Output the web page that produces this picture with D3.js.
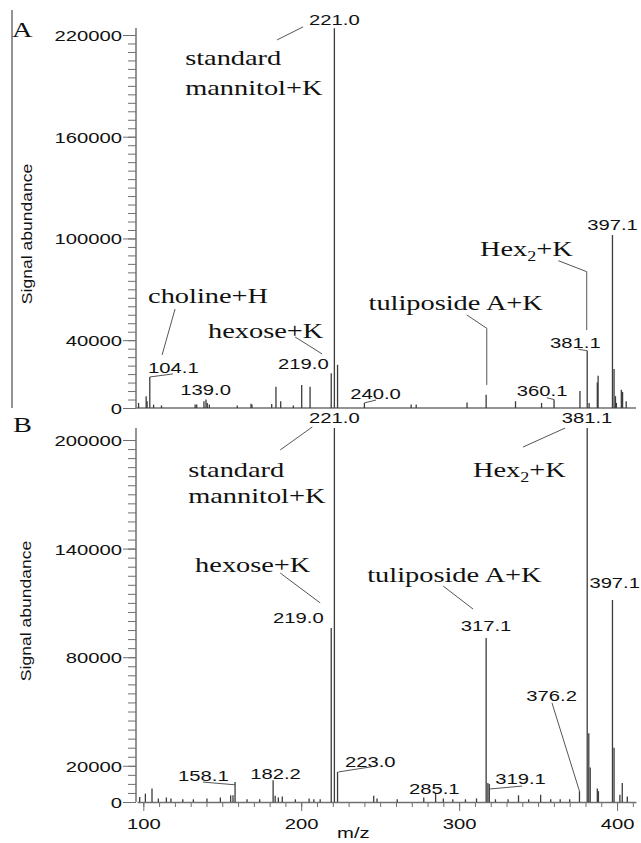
<!DOCTYPE html>
<html>
<head>
<meta charset="utf-8">
<script src="https://cdn.jsdelivr.net/npm/d3@7"></script>
<style>
  body { margin: 0; background: #fff; }
</style>
</head>
<body>
<div id="chart"></div>
<script>
// m/z range and tick labels
var mzDomain = [96, 412];
var xTicksB = [100, 200, 300, 400];
var yTicksA = [0, 40000, 100000, 160000, 220000];
var yTicksB = [0, 20000, 80000, 140000, 200000];

// panel A peaks (m/z, signal)
var massA = [97.0, 101.8, 102.4, 104.1, 106.5, 111.5, 132.8, 133.8, 138.4, 139.7, 140.5, 141.8,
  159.5, 168.2, 168.8, 181.3, 184.0, 187.0, 195.0, 200.3, 205.6, 219.0, 221.0, 223.0, 240.0,
  269.6, 272.8, 305.0, 317.1, 335.7, 352.2, 360.1, 376.5, 381.1, 382.3, 387.5, 388.0,
  397.1, 398.1, 399.0, 399.6, 402.7, 403.5, 405.8];
var signalA = [3000, 7000, 4000, 18300, 2000, 1500, 2000, 2000, 4000, 5000, 3000, 2000,
  1500, 2500, 2000, 2400, 12500, 4000, 1500, 13500, 12500, 20500, 224000, 25500, 3000,
  2000, 2000, 3300, 7800, 4000, 3000, 5000, 10000, 33800, 3000, 15000, 19000,
  102000, 23000, 7000, 3000, 10800, 9500, 4000];

// panel B peaks (m/z, signal)
var massB = [97.7, 101.3, 105.5, 109.5, 114.6, 117.5, 125.0, 131.7, 140.3, 148.8, 155.3, 156.8,
  158.1, 165.7, 173.7, 182.2, 183.5, 185.5, 188.0, 196.3, 205.0, 208.0, 212.0, 219.0, 221.0,
  223.0, 245.9, 248.0, 260.8, 277.6, 285.1, 290.0, 296.0, 304.0, 311.0, 317.1, 318.2, 319.1,
  323.0, 331.0, 337.6, 344.0, 351.6, 358.0, 364.0, 370.0, 376.2, 381.1, 382.1, 383.0,
  387.5, 388.2, 397.1, 398.1, 401.8, 403.3, 406.5];
var signalB = [2800, 4600, 7400, 2000, 2500, 2000, 1500, 1500, 2000, 2500, 3700, 3700,
  11000, 1500, 1500, 12000, 3500, 2500, 3000, 1500, 2000, 1500, 1500, 96100, 206600,
  16600, 3500, 2000, 1500, 2500, 5000, 2000, 1500, 1500, 2000, 90600, 10500, 10000,
  1500, 1500, 3700, 1500, 4000, 1500, 1500, 1500, 6000, 206600, 38000, 19000,
  7500, 6000, 111600, 30000, 4000, 10500, 3000];

// annotations: number labels, names, leader lines (in m/z and signal units)
var numLabelsA = [
  { t: '221.0', mz: 221, v: 229000, a: 'middle' },
  { t: '104.1', mz: 103, v: 23600, a: 'start' },
  { t: '139.0', mz: 123.4, v: 10600, a: 'start' },
  { t: '219.0', mz: 185.3, v: 26000, a: 'start' },
  { t: '240.0', mz: 231, v: 8300, a: 'start' },
  { t: '360.1', mz: 336.5, v: 10000, a: 'start' },
  { t: '381.1', mz: 357.6, v: 38800, a: 'start' },
  { t: '397.1', mz: 397.1, v: 108000, a: 'middle' }
];
var nameLabelsA = [
  { t: 'standard', mz: 126.5, v: 202400 },
  { t: 'mannitol+K', mz: 126.5, v: 184700 },
  { t: 'choline+H', mz: 103, v: 61900 },
  { t: 'hexose+K', mz: 141, v: 41300 },
  { t: 'tuliposide A+K', mz: 242.6, v: 57800 },
  { t: 'Hex2+K', mz: 313.2, v: 89700 }
];
var leadersA = [
  [[184.7, 217100], [201.2, 224800]],
  [[120.1, 58400], [111.9, 31300]],
  [[118.8, 20100], [104.1, 18300]],
  [[196.1, 41900], [213.2, 31900]],
  [[247.4, 4700], [240, 3000]],
  [[304.8, 54900], [317.5, 47000], [317.5, 13600]],
  [[362.8, 86900], [380.8, 80400], [380.8, 46000]],
  [[375.5, 34600], [381.1, 33800]],
  [[355.5, 6000], [360.1, 5000]]
];

var numLabelsB = [
  { t: '221.0', mz: 221, v: 212200, a: 'middle' },
  { t: '381.1', mz: 381, v: 212200, a: 'middle' },
  { t: '219.0', mz: 182.2, v: 101700, a: 'start' },
  { t: '317.1', mz: 317, v: 97200, a: 'middle' },
  { t: '397.1', mz: 398.5, v: 121000, a: 'middle' },
  { t: '376.2', mz: 358.6, v: 58600, a: 'middle' },
  { t: '223.0', mz: 227.7, v: 22100, a: 'start' },
  { t: '158.1', mz: 122, v: 14400, a: 'start' },
  { t: '182.2', mz: 167.7, v: 15500, a: 'start' },
  { t: '285.1', mz: 268.2, v: 7200, a: 'start' },
  { t: '319.1', mz: 322.8, v: 12700, a: 'start' }
];
var nameLabelsB = [
  { t: 'standard', mz: 128.4, v: 179600 },
  { t: 'mannitol+K', mz: 128.4, v: 165200 },
  { t: 'hexose+K', mz: 132.8, v: 127100 },
  { t: 'Hex2+K', mz: 308.8, v: 179600 },
  { t: 'tuliposide A+K', mz: 241.8, v: 121500 }
];
var leadersB = [
  [[207, 207200], [186.7, 194500]],
  [[186.7, 126500], [212, 110000]],
  [[340.4, 196100], [367.1, 206600]],
  [[289.9, 119300], [308.8, 106600]],
  [[358.8, 54700], [376.2, 6000]],
  [[244.8, 19500], [223.5, 16600]],
  [[137.8, 11000], [158.1, 9500]],
  [[339.8, 8800], [319.5, 7200]]
];

var sans = '"Liberation Sans", Arial, sans-serif';
var serif = '"Liberation Serif", "Times New Roman", serif';
var sansStretch = 1.35;
var serifStretch = 1.29;
var axisColour = '#707070';
var peakColour = '#3c3c3c';

var svg = d3.select('#chart')
    .append('svg')
    .attr('width', 641)
    .attr('height', 843);

var x = d3.scaleLinear().domain(mzDomain).range([137, 636]);
var axisX = 136;

// one panel: scale, peaks, axes, labels
function drawPanel(y, yTicks, yTop, mass, signal, numLabels, nameLabels, leaders, showX) {
    // minor y ticks every 5000
    svg.append('g')
        .attr('transform', 'translate(' + axisX + ',0)')
        .style('color', axisColour)
        .call(d3.axisLeft(y).tickValues(d3.range(0, y.domain()[1] + 1, 5000)).tickSize(8).tickFormat(''))
        .call(function(g) { g.select('.domain').remove(); });

    var ay = svg.append('g')
        .attr('transform', 'translate(' + axisX + ',0)')
        .style('color', axisColour)
        .call(d3.axisLeft(y).tickValues(yTicks).tickSize(13).tickSizeOuter(0).tickFormat(d3.format('d')));
    ay.select('.domain').remove();
    ay.selectAll('text')
        .attr('x', null)
        .attr('dy', '0.36em')
        .attr('transform', 'translate(-14,0) scale(' + sansStretch + ',1)')
        .attr('fill', '#111')
        .style('font-family', sans)
        .style('font-size', '15px');

    svg.append('line')
        .attr('x1', axisX).attr('x2', axisX)
        .attr('y1', yTop).attr('y2', y(0))
        .attr('stroke', axisColour)
        .attr('stroke-width', 1.5);

    // x axis
    if (showX) {
        svg.append('g')
            .attr('transform', 'translate(0,' + y(0) + ')')
            .style('color', axisColour)
            .call(d3.axisBottom(x).tickValues(d3.range(100, 411, 10)).tickSize(5).tickFormat(''))
            .call(function(g) { g.select('.domain').remove(); });
        var ax = svg.append('g')
            .attr('transform', 'translate(0,' + y(0) + ')')
            .style('color', axisColour)
            .call(d3.axisBottom(x).tickValues(xTicksB).tickSize(9).tickSizeOuter(0));
        ax.select('.domain').attr('stroke-width', 1.5);
        ax.selectAll('text')
            .attr('y', null)
            .attr('dy', '0.36em')
            .attr('transform', 'translate(0,22) scale(' + sansStretch + ',1)')
            .attr('fill', '#111')
            .style('font-family', sans)
            .style('font-size', '15px');
    } else {
        svg.append('line')
            .attr('x1', axisX).attr('x2', x.range()[1])
            .attr('y1', y(0)).attr('y2', y(0))
            .attr('stroke', axisColour)
            .attr('stroke-width', 1.5);
    }

    // peaks
    svg.append('g').selectAll('line')
        .data(mass)
        .join('line')
        .attr('x1', function(d) { return x(d); })
        .attr('x2', function(d) { return x(d); })
        .attr('y1', y(0))
        .attr('y2', function(d, i) { return y(signal[i]); })
        .attr('stroke', peakColour)
        .attr('stroke-width', 1.3);

    // leader lines
    var line = d3.line()
        .x(function(d) { return x(d[0]); })
        .y(function(d) { return y(d[1]); });
    svg.append('g').selectAll('path')
        .data(leaders)
        .join('path')
        .attr('d', line)
        .attr('fill', 'none')
        .attr('stroke', '#555')
        .attr('stroke-width', 1);

    // number labels
    svg.append('g').selectAll('text')
        .data(numLabels)
        .join('text')
        .attr('transform', function(d) {
            return 'translate(' + x(d.mz) + ',' + y(d.v) + ') scale(' + sansStretch + ',1)';
        })
        .attr('dy', '0.36em')
        .attr('text-anchor', function(d) { return d.a; })
        .attr('fill', '#111')
        .style('font-family', sans)
        .style('font-size', '15px')
        .text(function(d) { return d.t; });

    // compound names
    var names = svg.append('g').selectAll('text')
        .data(nameLabels)
        .join('text')
        .attr('transform', function(d) {
            return 'translate(' + x(d.mz) + ',' + y(d.v) + ') scale(' + serifStretch + ',1)';
        })
        .attr('fill', '#111')
        .style('font-family', serif)
        .style('font-size', '22px');
    names.each(function(d) {
        var t = d3.select(this);
        if (d.t === 'Hex2+K') {
            t.append('tspan').text('Hex');
            t.append('tspan').attr('dy', 5).style('font-size', '14px').text('2');
            t.append('tspan').attr('dy', -5).text('+K');
        } else {
            t.text(d.t);
        }
    });
}

var yA = d3.scaleLinear().domain([0, 220000]).range([408, 35]);
var yB = d3.scaleLinear().domain([0, 200000]).range([802, 440]);

drawPanel(yA, yTicksA, 28, massA, signalA, numLabelsA, nameLabelsA, leadersA, false);
drawPanel(yB, yTicksB, 428, massB, signalB, numLabelsB, nameLabelsB, leadersB, true);

// frame line at the left of panel A
svg.append('line')
    .attr('x1', 12).attr('x2', 12)
    .attr('y1', 10).attr('y2', yA(0))
    .attr('stroke', axisColour)
    .attr('stroke-width', 1.5);

// panel letters
[['A', 12, 37], ['B', 13, 432]].forEach(function(p) {
    svg.append('text')
        .attr('transform', 'translate(' + p[1] + ',' + p[2] + ') scale(' + serifStretch + ',1)')
        .attr('fill', '#111')
        .style('font-family', serif)
        .style('font-size', '22px')
        .text(p[0]);
});

// y titles
[[27, 234], [26, 611]].forEach(function(p) {
    svg.append('text')
        .attr('transform', 'translate(' + p[0] + ',' + p[1] + ') rotate(-90) scale(1.17,1)')
        .attr('text-anchor', 'middle')
        .attr('dy', '0.36em')
        .attr('fill', '#111')
        .style('font-family', sans)
        .style('font-size', '15px')
        .text('Signal abundance');
});

// x title
svg.append('text')
    .attr('transform', 'translate(' + x(233) + ',838) scale(' + sansStretch + ',1)')
    .attr('text-anchor', 'middle')
    .attr('fill', '#111')
    .style('font-family', sans)
    .style('font-size', '15px')
    .text('m/z');
</script>
</body>
</html>
